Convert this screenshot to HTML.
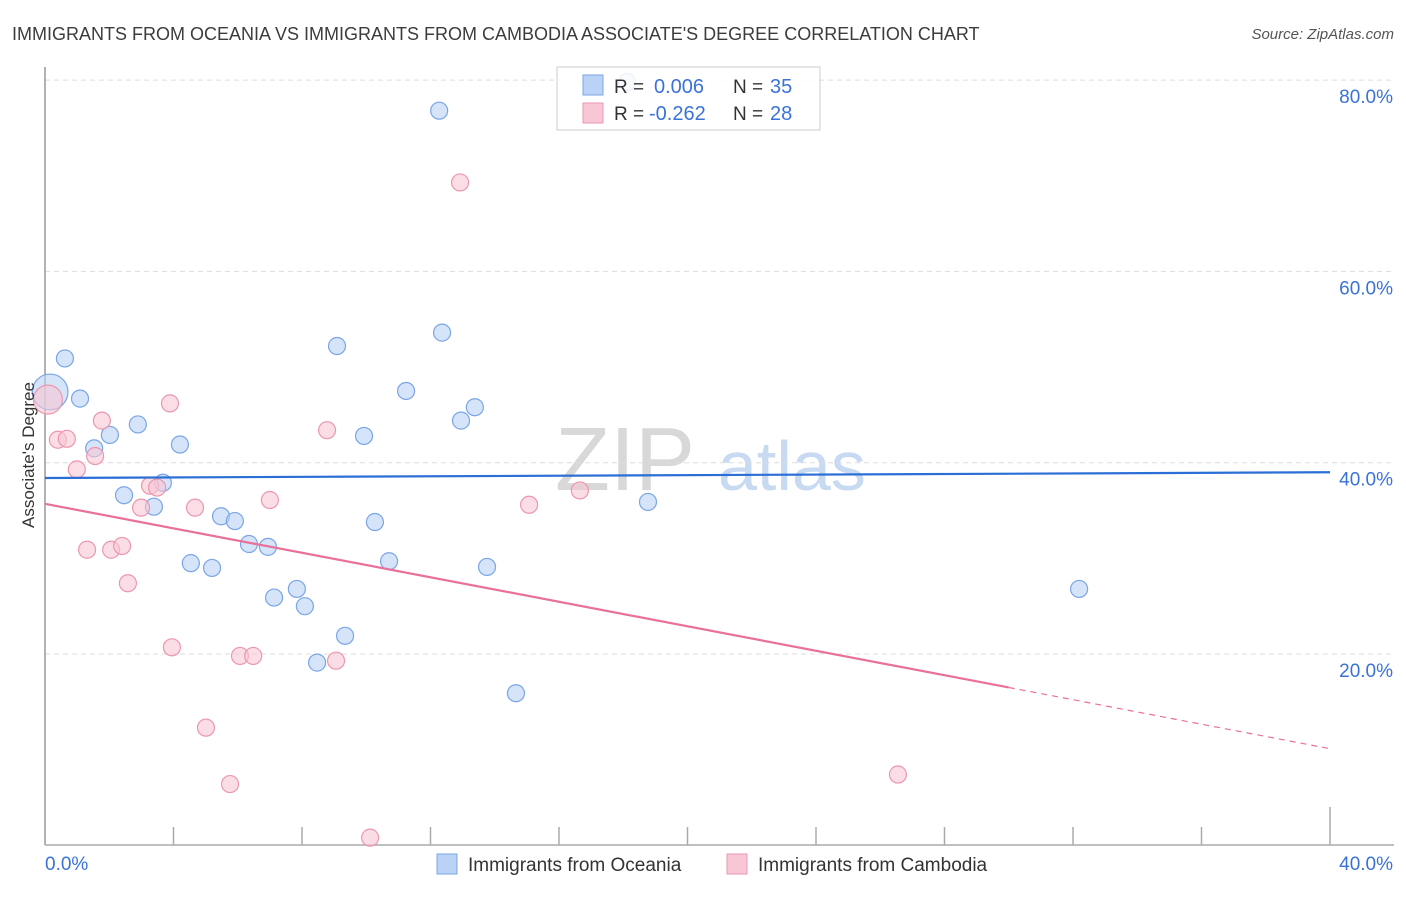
<!DOCTYPE html>
<html><head><meta charset="utf-8">
<style>
body{margin:0;background:#fff;font-family:"Liberation Sans",sans-serif;}
svg text{font-family:"Liberation Sans",sans-serif;}
</style></head>
<body>
<svg id="chart" width="1406" height="892" viewBox="0 0 1406 892" xmlns="http://www.w3.org/2000/svg">
<text x="12" y="40" font-size="18" fill="#3c3c3c">IMMIGRANTS FROM OCEANIA VS IMMIGRANTS FROM CAMBODIA ASSOCIATE'S DEGREE CORRELATION CHART</text>
<text x="1394" y="39" font-size="15" fill="#555" text-anchor="end" font-style="italic">Source: ZipAtlas.com</text>
<g>
<text x="555" y="490" font-size="90" fill="#d8d8d8" font-family="Liberation Serif">ZIP</text>
<text x="718" y="490" font-size="70" fill="#c8daf2">atlas</text>
</g>
<g id="grid"></g>
<g id="axes"></g>
<g id="marks"></g>
<text transform="translate(34,455) rotate(-90)" font-size="17" fill="#333" text-anchor="middle">Associate's Degree</text>
<g>
<rect x="557" y="67" width="263" height="63" fill="#fff" fill-opacity="0.85" stroke="#ccc"/>
<rect x="583" y="75" width="20" height="20" fill="#b9d2f5" stroke="#7aa5e6"/>
<rect x="583" y="103" width="20" height="20" fill="#f8c6d4" stroke="#eb97b0"/>
<text x="614" y="93" font-size="19" fill="#333">R = </text><text x="654" y="93" font-size="20" fill="#3a72d8">0.006</text>
<text x="733" y="93" font-size="19" fill="#333">N = </text><text x="770" y="93" font-size="20" fill="#3a72d8">35</text>
<text x="614" y="120" font-size="19" fill="#333">R = </text><text x="649" y="120" font-size="20" fill="#3a72d8">-0.262</text>
<text x="733" y="120" font-size="19" fill="#333">N = </text><text x="770" y="120" font-size="20" fill="#3a72d8">28</text>
</g>
<g>
<rect x="437" y="854" width="20" height="20" fill="#b9d2f5" stroke="#7aa5e6"/>
<text x="468" y="871" font-size="19" fill="#333">Immigrants from Oceania</text>
<rect x="727" y="854" width="20" height="20" fill="#f8c6d4" stroke="#eb97b0"/>
<text x="758" y="871" font-size="19" fill="#333">Immigrants from Cambodia</text>
</g>
</svg>
<script>
const yTicks=[20,40,60,80];
const yTickLabels=["20.0%","40.0%","60.0%","80.0%"];
const xTicks=[0,4,8,12,16,20,24,28,32,36,40];
const oceaniaX=[0.62,1.09,1.53,2.02,2.89,4.20,2.46,3.67,3.39,4.54,5.20,5.48,5.91,6.35,6.94,7.13,7.84,8.09,8.47,9.34,9.09,9.93,10.27,10.71,11.24,12.36,12.27,12.95,13.38,13.76,14.66,18.77,32.19,18.12,0.16];
const oceaniaY=[50.9,46.7,41.5,42.9,44.0,41.9,36.6,37.9,35.4,29.5,29.0,34.4,33.9,31.5,31.2,25.9,26.8,25.0,19.1,21.9,52.2,42.8,33.8,29.7,47.5,53.6,76.8,44.4,45.8,29.1,15.9,35.9,26.8,79.8,47.4];
const oceaniaSize=[1,1,1,1,1,1,1,1,1,1,1,1,1,1,1,1,1,1,1,1,1,1,1,1,1,1,1,1,1,1,1,1,1,1,2.1];
const cambodiaX=[0.09,0.40,0.68,0.99,1.31,1.56,1.77,2.06,2.40,2.58,2.99,3.27,3.49,3.89,3.95,4.67,5.01,5.76,6.07,6.48,7.00,8.78,9.06,10.12,12.92,15.07,16.65,26.55];
const cambodiaY=[46.6,42.4,42.5,39.3,30.9,40.7,44.4,30.9,31.3,27.4,35.3,37.6,37.4,46.2,20.7,35.3,12.3,6.4,19.8,19.8,36.1,43.4,19.3,0.8,69.3,35.6,37.1,7.4];
const cambodiaSize=[1.7,1,1,1,1,1,1,1,1,1,1,1,1,1,1,1,1,1,1,1,1,1,1,1,1,1,1,1];
const oceaniaTrend=[38.4,39.0];
const cambodiaTrend=[35.7,10.1];
const cambodiaSolidEnd=30.0;

const NS="http://www.w3.org/2000/svg";
const X=v=>45+v/40*1285;
const Y=v=>845.3-v/20*191.3;
function mk(tag,attrs,parent){const e=document.createElementNS(NS,tag);for(const k in attrs)e.setAttribute(k,attrs[k]);parent.appendChild(e);return e;}
const grid=document.getElementById('grid'),axes=document.getElementById('axes'),marks=document.getElementById('marks');
yTicks.forEach((t,i)=>{
 const l=mk('line',{x1:45,x2:1394,y1:Y(t),y2:Y(t),stroke:'#ddd','stroke-dasharray':'5,4'},grid);
 
 
 const tx=mk('text',{x:1393,y:Y(t)+23,'font-size':19,fill:'#3a72d8','text-anchor':'end'},grid);
 tx.textContent=yTickLabels[i];
 
 
});
const ya=mk('line',{x1:45,x2:45,y1:67,y2:845,stroke:'#999','stroke-width':1.5},axes);


const xa=mk('line',{x1:45,x2:1394,y1:845,y2:845,stroke:'#aaa','stroke-width':1.5},axes);


xTicks.forEach((t,i)=>{
 const tk=mk('line',{x1:X(t),x2:X(t),y1:(i==xTicks.length-1?807:827),y2:845,stroke:'#aaa','stroke-width':1.5},axes);
 
 
});
const xl0=mk('text',{x:45,y:870,'font-size':19,fill:'#3a72d8'},axes);xl0.textContent='0.0%';


const xl1=mk('text',{x:1393,y:870,'font-size':19,fill:'#3a72d8','text-anchor':'end'},axes);xl1.textContent='40.0%';



oceaniaX.forEach((v,i)=>{
 const c=mk('circle',{cx:X(v),cy:Y(oceaniaY[i]),r:8.5*oceaniaSize[i],fill:'#b9d2f5','fill-opacity':0.6,stroke:'#7aa5e6','stroke-width':1.2},marks);
 
 
});
cambodiaX.forEach((v,i)=>{
 const c=mk('circle',{cx:X(v),cy:Y(cambodiaY[i]),r:8.5*cambodiaSize[i],fill:'#f8c6d4','fill-opacity':0.6,stroke:'#eb97b0','stroke-width':1.2},marks);
 
 
});
const bt=mk('line',{x1:X(0),x2:X(40),y1:Y(oceaniaTrend[0]),y2:Y(oceaniaTrend[1]),stroke:'#2a6ed6','stroke-width':2.2},marks);


const cy=x=>cambodiaTrend[0]+(cambodiaTrend[1]-cambodiaTrend[0])*x/40;
const pt=mk('line',{x1:X(0),x2:X(cambodiaSolidEnd),y1:Y(cy(0)),y2:Y(cy(cambodiaSolidEnd)),stroke:'#e8709a','stroke-width':2.2},marks);


const pd=mk('line',{x1:X(cambodiaSolidEnd),x2:X(40),y1:Y(cy(cambodiaSolidEnd)),y2:Y(cy(40)),stroke:'#e8709a','stroke-width':1.2,'stroke-dasharray':'6,5'},marks);


</script>
</body></html>
